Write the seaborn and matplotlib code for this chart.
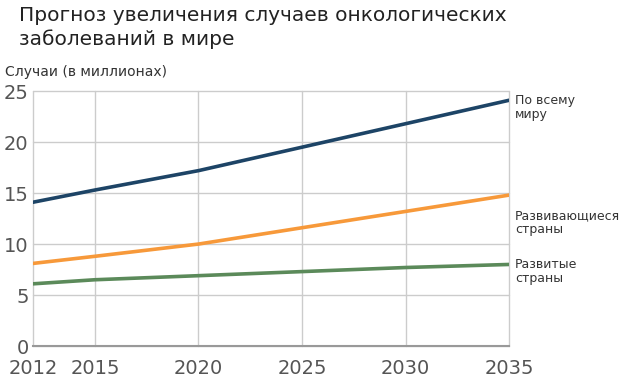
import pandas as pd
import matplotlib
matplotlib.use("Agg")
import matplotlib.pyplot as plt
import seaborn as sns

# Data
years = [2012, 2015, 2020, 2025, 2030, 2035]
world = [14.1, 15.3, 17.2, 19.5, 21.8, 24.1]
developing = [8.1, 8.8, 10.0, 11.6, 13.2, 14.8]
developed = [6.1, 6.5, 6.9, 7.3, 7.7, 8.0]

series_names = ["По всему\nмиру", "Развивающиеся\nстраны", "Развитые\nстраны"]
colors = ["#1d4466", "#f7993a", "#5b8a5a"]
y_ticks = [0, 5, 10, 15, 20, 25]

sns.set_theme(style="whitegrid")
plt.rcParams['font.family'] = ['DejaVu Sans']

df = pd.DataFrame({
    'year': years * 3,
    'cases': world + developing + developed,
    'series': sum([[n] * len(years) for n in series_names], []),
})

fig = plt.figure(figsize=(6.2, 3.91), dpi=100)
ax = fig.add_axes([0.053, 0.115, 0.768, 0.652])

sns.lineplot(data=df, x='year', y='cases', hue='series', palette=colors,
             linewidth=2.6, legend=False, ax=ax)

ax.set_xlim(years[0], years[-1])
ax.set_ylim(0, 25)
ax.set_xticks(years)
ax.set_yticks(y_ticks)
ax.set_xlabel("")
ax.set_ylabel("")
ax.grid(True, color="#cccccc", linewidth=1.0)
for gl in ax.get_xgridlines() + ax.get_ygridlines():
    gl.set_clip_on(False)
for side in ["top", "right", "left"]:
    ax.spines[side].set_visible(False)
ax.spines["bottom"].set_color("#999999")
ax.spines["bottom"].set_linewidth(1.5)
ax.tick_params(axis='both', labelsize=14, colors="#555555", length=0)
ax.tick_params(axis='x', pad=9)
ax.tick_params(axis='y', pad=3)
for lbl in ax.get_xticklabels() + ax.get_yticklabels():
    lbl.set_color("#555555")

# series labels at the right end of each line
label_y = [world[-1] - 0.7, developing[-1] - 2.7, developed[-1] - 0.7]
for name, y in zip(series_names, label_y):
    ax.text(2035.3, y, name, fontsize=9, color="#333333", va='center',
            ha='left', linespacing=1.05, clip_on=False)

fig.text(0.03, 0.985, "Прогноз увеличения случаев онкологических\nзаболеваний в мире",
         fontsize=14.5, color="#222222", va='top', ha='left', linespacing=1.3)
fig.text(0.008, 0.815, "Случаи (в миллионах)", fontsize=10, color="#333333",
         va='center', ha='left')

fig.savefig("out.png", dpi=100, facecolor="white")
